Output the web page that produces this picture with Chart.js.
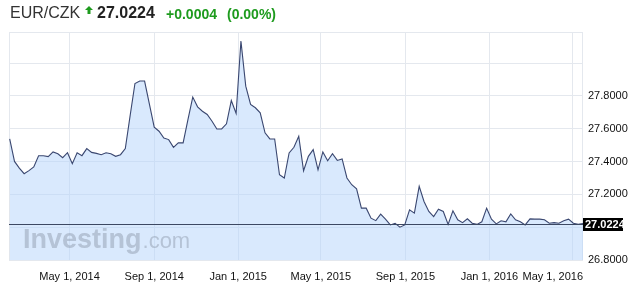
<!DOCTYPE html>
<html>
<head>
<meta charset="utf-8">
<title>EUR/CZK</title>
<script src="https://cdn.jsdelivr.net/npm/chart.js@4.4.1/dist/chart.umd.min.js"></script>
<style>
  html, body { margin: 0; padding: 0; background: #fff; }
  #wrap { position: relative; width: 635px; height: 297px; font-family: 'Liberation Sans', Arial, sans-serif; }
  #wrap canvas { position: absolute; left: 0; top: 0; }
  .hd { position: absolute; white-space: nowrap; line-height: 18px; }
  .sym   { left: 10px;  top: 4px; font-size: 16px; color: #333; }
  .last  { left: 97px;  top: 4px; font-size: 16px; font-weight: bold; color: #222; }
  .chg   { left: 166px; top: 5px; font-size: 14px; font-weight: bold; color: #1e9b1e; }
  .pct   { left: 227px; top: 5px; font-size: 14px; font-weight: bold; color: #1e9b1e; }
  .arrow { position: absolute; left: 85px; top: 6px; }
</style>
</head>
<body>
<div id="wrap">
  <canvas id="fxChart" width="635" height="297"></canvas>
  <span class="hd sym">EUR/CZK</span>
  <svg class="arrow" width="8" height="8" viewBox="0 0 8 8"><polygon points="4,0 8,4 5.5,4 5.5,8 2.5,8 2.5,4 0,4" fill="#1e9b1e"/></svg>
  <span class="hd last">27.0224</span>
  <span class="hd chg">+0.0004</span>
  <span class="hd pct">(0.00%)</span>
</div>
<script>
// ── Data (weekly closes) ─────────────────────────────────────────────────────
const FIRST_WEEK = '2014-02-03';
const RATES = [
  27.538, 27.401, 27.360, 27.326, 27.345, 27.367, 27.436, 27.436, 27.430, 27.459,
  27.448, 27.424, 27.454, 27.387, 27.454, 27.436, 27.479, 27.456, 27.450, 27.442,
  27.454, 27.448, 27.432, 27.442, 27.479, 27.680, 27.876, 27.891, 27.891, 27.750,
  27.610, 27.585, 27.544, 27.534, 27.487, 27.514, 27.514, 27.656, 27.793, 27.734,
  27.707, 27.687, 27.646, 27.599, 27.599, 27.630, 27.772, 27.693, 28.135, 27.860,
  27.748, 27.728, 27.697, 27.575, 27.538, 27.538, 27.320, 27.300, 27.453, 27.487,
  27.554, 27.344, 27.432, 27.473, 27.350, 27.459, 27.405, 27.448, 27.407, 27.416,
  27.300, 27.259, 27.234, 27.116, 27.116, 27.055, 27.040, 27.080, 27.049, 27.014,
  27.024, 27.000, 27.014, 27.106, 27.086, 27.249, 27.157, 27.096, 27.065, 27.110,
  27.096, 27.017, 27.100, 27.045, 27.028, 27.051, 27.024, 27.017, 27.033, 27.116,
  27.049, 27.020, 27.039, 27.033, 27.081, 27.045, 27.033, 27.014, 27.051, 27.049,
  27.049, 27.045, 27.024, 27.028, 27.024, 27.039, 27.049, 27.024, 27.017, 27.0224,
];
const X_TICK_DATES  = ['2014-05-01', '2014-09-01', '2015-01-01', '2015-05-01', '2015-09-01', '2016-01-01', '2016-05-01'];
const X_TICK_LABELS = ['May 1, 2014', 'Sep 1, 2014', 'Jan 1, 2015', 'May 1, 2015', 'Sep 1, 2015', 'Jan 1, 2016', 'May 1, 2016'];
const Y_TICKS       = [26.8, 27.0, 27.2, 27.4, 27.6, 27.8, 28.0];
const Y_HIDDEN      = [27.0, 28.0];
const LAST_PRICE    = 27.0224;

// ── Helpers ──────────────────────────────────────────────────────────────────
const DAY = 86400000;
const weekDates = RATES.map((_, i) => Date.parse(FIRST_WEEK) + i * 7 * DAY);

const GRID  = '#e4e8ee';
const FONT  = "'Liberation Sans', Arial, sans-serif";

// ── Plugins ──────────────────────────────────────────────────────────────────

// Thin frame round the plot area
const framePlugin = {
  id: 'frame',
  beforeDatasetsDraw(chart) {
    const { ctx, chartArea: a } = chart;
    ctx.save();
    ctx.strokeStyle = GRID;
    ctx.lineWidth = 1;
    ctx.strokeRect(a.left + 0.5, a.top + 0.5, a.right - a.left - 1, a.bottom - a.top);
    ctx.restore();
  },
};

// Watermark + last price line and tag
const overlayPlugin = {
  id: 'overlay',
  afterDatasetsDraw(chart) {
    const { ctx, chartArea: a, scales: { y } } = chart;
    ctx.save();

    // watermark
    ctx.fillStyle = 'rgba(145,158,176,0.5)';
    ctx.textBaseline = 'alphabetic';
    ctx.font = `bold 27px ${FONT}`;
    ctx.fillText('Investing', 23, 248);
    const w = ctx.measureText('Investing').width;
    ctx.font = `22px ${FONT}`;
    ctx.fillText('.com', 23 + w + 1, 248);

    // last price line
    const py = Math.round(y.getPixelForValue(LAST_PRICE)) + 0.5;
    ctx.strokeStyle = '#3c4862';
    ctx.lineWidth = 1;
    ctx.beginPath();
    ctx.moveTo(a.left, py);
    ctx.lineTo(a.right, py);
    ctx.stroke();

    // price tag
    ctx.fillStyle = '#000';
    ctx.fillRect(a.right, py - 6.5, 40, 13);
    ctx.fillStyle = '#fff';
    ctx.font = `bold 11px ${FONT}`;
    ctx.textBaseline = 'middle';
    ctx.fillText(LAST_PRICE.toFixed(4), a.right + 2, py + 0.5);
    ctx.restore();
  },
};

// Date labels under the plot, kept inside the plot's right edge
const xLabelPlugin = {
  id: 'xLabels',
  afterDraw(chart) {
    const { ctx, chartArea: a, scales: { x } } = chart;
    ctx.save();
    ctx.font = `11px ${FONT}`;
    ctx.fillStyle = '#111';
    ctx.textAlign = 'center';
    ctx.textBaseline = 'middle';
    X_TICK_DATES.forEach((d, i) => {
      const label = X_TICK_LABELS[i];
      const half  = ctx.measureText(label).width / 2;
      const px    = Math.min(x.getPixelForValue(Date.parse(d)), a.right - half);
      ctx.fillText(label, px, 277);
    });
    ctx.restore();
  },
};

// ── Chart ────────────────────────────────────────────────────────────────────
new Chart(document.getElementById('fxChart').getContext('2d'), {
  type: 'line',
  data: {
    datasets: [{
      data:            RATES.map((v, i) => ({ x: weekDates[i], y: v })),
      borderColor:     '#3a4770',
      borderWidth:     1.1,
      backgroundColor: 'rgba(179,211,251,0.5)',
      fill:            'start',
      pointRadius:     0,
      tension:         0,
    }],
  },
  options: {
    responsive: false,
    animation:  false,
    layout:     { padding: { left: 9, top: 32, right: 0, bottom: 0 } },
    plugins: {
      legend:  { display: false },
      tooltip: { enabled: false },
    },
    scales: {
      x: {
        type: 'linear',
        min:  weekDates[0] - DAY,
        max:  weekDates[weekDates.length - 1],
        afterBuildTicks(axis) { axis.ticks = X_TICK_DATES.map(d => ({ value: Date.parse(d) })); },
        afterFit(axis) { axis.height = 37; },
        grid:   { color: GRID, drawTicks: false },
        border: { display: false },
        ticks:  { display: false },
      },
      y: {
        position: 'right',
        min: 26.8,
        max: 28.19,
        afterBuildTicks(axis) { axis.ticks = Y_TICKS.map(v => ({ value: v })); },
        afterFit(axis) { axis.width = 52; },
        grid:   { color: GRID, drawTicks: false },
        border: { display: false },
        ticks: {
          padding: 5,
          color:   '#111',
          font:    { family: FONT, size: 11 },
          callback(v) {
            return Y_HIDDEN.some(h => Math.abs(h - v) < 1e-6) ? '' : Number(v).toFixed(4);
          },
        },
      },
    },
  },
  plugins: [framePlugin, overlayPlugin, xLabelPlugin],
});
</script>
</body>
</html>
